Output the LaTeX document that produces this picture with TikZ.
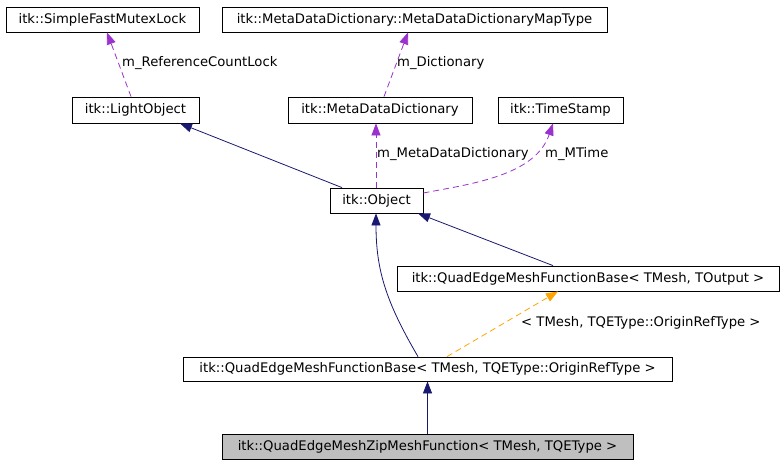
\documentclass[tikz,border=0pt]{standalone}
\usepackage{fontspec}
\setmainfont{DejaVu Sans}
\usetikzlibrary{arrows.meta}
\definecolor{navyc}{HTML}{191970}
\definecolor{purplec}{HTML}{9A32CD}
\definecolor{orangec}{HTML}{FFA500}
\definecolor{grayc}{HTML}{BFBFBF}
\tikzset{
  box/.style={draw=black, line width=0.8pt, inner sep=0pt, font=\fontsize{13.2}{15}\selectfont, align=center},
  lbl/.style={inner sep=0pt, anchor=west, font=\fontsize{13.2}{15}\selectfont},
  tip/.style={-{Triangle[length=12pt,width=9pt]}},
  inherit/.style={tip, draw=navyc, line width=0.8pt},
  member/.style={tip, draw=purplec, line width=0.8pt, dash pattern=on 6pt off 4pt},
  templ/.style={tip, draw=orangec, line width=0.8pt, dash pattern=on 6pt off 4pt},
}
\begin{document}
\begin{tikzpicture}[x=1pt,y=-1pt]
\useasboundingbox (0,0) rectangle (783,464);
% nodes
\node[box, minimum width=193pt, minimum height=25pt] (sfml) at (102.5,19.5) {itk::SimpleFastMutexLock};
\node[box, minimum width=385pt, minimum height=25pt] (maptype) at (414.5,19.5) {itk::MetaDataDictionary::MetaDataDictionaryMapType};
\node[box, minimum width=127pt, minimum height=26pt] (light) at (135.5,110) {itk::LightObject};
\node[box, minimum width=184pt, minimum height=26pt] (mdd) at (380,110) {itk::MetaDataDictionary};
\node[box, minimum width=125pt, minimum height=26pt] (ts) at (560.5,110) {itk::TimeStamp};
\node[box, minimum width=93pt, minimum height=25pt] (obj) at (376.5,200.5) {itk::Object};
\node[box, minimum width=382pt, minimum height=25pt] (qt) at (588,278.5) {itk::QuadEdgeMeshFunctionBase< TMesh, TOutput >};
\node[box, minimum width=489pt, minimum height=24pt] (qo) at (427.5,369) {itk::QuadEdgeMeshFunctionBase< TMesh, TQEType::OriginRefType >};
\node[box, fill=grayc, minimum width=411pt, minimum height=25pt] (zip) at (427.5,446.5) {itk::QuadEdgeMeshZipMeshFunction< TMesh, TQEType >};
% labels
\node[lbl] (l1) at (122,63) {m\_ReferenceCountLock};
\node[lbl] (l2) at (397,63) {m\_Dictionary};
\node[lbl] (l3) at (377,154) {m\_MetaDataDictionary};
\node[lbl] (l4) at (545,154) {m\_MTime};
\node[lbl] (l5) at (521,323) {< TMesh, TQEType::OriginRefType >};
% connectors
\draw[member] ([xshift=-4.5pt]light.north) -- ([xshift=4.5pt]sfml.south);
\draw[member] ([xshift=4pt]mdd.north) -- ([xshift=-6.5pt]maptype.south);
\draw[inherit] ([xshift=-34.5pt]obj.north) -- ([xshift=44.5pt]light.south);
\draw[member] ([xshift=-0.5pt]obj.north) -- ([xshift=-4pt]mdd.south);
\draw[member] ([yshift=7.5pt]obj.east) .. controls (470,184) and (535,176) .. ([xshift=-7.5pt]ts.south);
\draw[inherit] ([xshift=-35pt]qt.north) -- ([xshift=41.5pt]obj.south);
\draw[inherit] ([xshift=-9.5pt]qo.north) .. controls (386,302) and (376,270) .. ([xshift=-0.5pt]obj.south);
\draw[templ] ([xshift=19.5pt]qo.north) -- ([xshift=-30pt]qt.south);
\draw[inherit] (zip.north) -- (qo.south);
\end{tikzpicture}
\end{document}
